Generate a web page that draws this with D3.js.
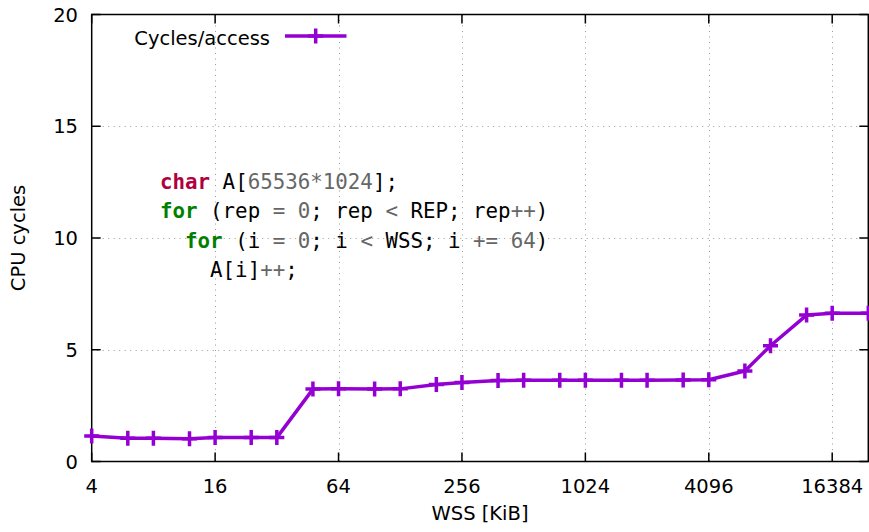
<!DOCTYPE html>
<html>
<head>
<meta charset="utf-8">
<script src="https://cdn.jsdelivr.net/npm/d3@7"></script>
<style>
  body { margin: 0; background: #fff; }
  svg { display: block; }
  text { font-family: "DejaVu Sans", sans-serif; }
  text.code { font-family: "DejaVu Sans Mono", monospace; }
</style>
</head>
<body>
<div id="chart"></div>
<script>
let width = 869;
let height = 532;

// working set sizes in KiB and measured cycles per access
let wss = [4, 6, 8, 12, 16, 24, 32, 48, 64, 96, 128, 192, 256, 384, 512, 768,
           1024, 1536, 2048, 3072, 4096, 6144, 8192, 12288, 16384, 24576];
let cycles = [1.14, 1.04, 1.04, 1.02, 1.07, 1.07, 1.07, 3.24, 3.25, 3.24, 3.25, 3.45, 3.54, 3.62, 3.63, 3.63,
              3.63, 3.63, 3.64, 3.65, 3.66, 4.05, 5.18, 6.55, 6.63, 6.63];
let xTicks = [4, 16, 64, 256, 1024, 4096, 16384];
let yTicks = [0, 5, 10, 15, 20];

// the code snippet shown in the plot, split into coloured pieces
let codeLines = [
  [["char", "type"], [" A[", "id"], ["65536", "num"], ["*", "op"], ["1024", "num"], ["];", "id"]],
  [["for", "kw"], [" (rep ", "id"], ["=", "op"], [" ", "id"], ["0", "num"], ["; rep ", "id"], ["<", "op"], [" REP; rep", "id"], ["++", "op"], [")", "id"]],
  [["  ", "id"], ["for", "kw"], [" (i ", "id"], ["=", "op"], [" ", "id"], ["0", "num"], ["; i ", "id"], ["<", "op"], [" WSS; i ", "id"], ["+=", "op"], [" ", "id"], ["64", "num"], [")", "id"]],
  [["    A[i]", "id"], ["++", "op"], [";", "id"]]
];
let codeColours = { type: "#b00040", kw: "#008000", id: "#000000", num: "#666666", op: "#666666" };

let margin = { left: 91.7, right: 0.7, top: 14.5, bottom: 70.5 };
let lineColour = "#9400d3";

let svg = d3.select("#chart").append("svg")
    .attr("width", width)
    .attr("height", height);

let x = d3.scaleLog().base(2)
    .domain([4, 24576])
    .range([margin.left, width - margin.right]);
let y = d3.scaleLinear()
    .domain([0, 20])
    .range([height - margin.bottom, margin.top]);

let x0 = x.range()[0], x1 = x.range()[1];
let y0 = y.range()[0], y1 = y.range()[1];

// dotted grid
let grid = svg.append("g")
    .attr("stroke", "#999")
    .attr("stroke-width", 1)
    .attr("stroke-dasharray", "1 4.5");
grid.selectAll(".gx")
    .data(xTicks.slice(1))
    .enter().append("line")
        .attr("x1", d => Math.round(x(d)) + 0.5).attr("x2", d => Math.round(x(d)) + 0.5)
        .attr("y1", y1).attr("y2", y0);
grid.selectAll(".gy")
    .data(yTicks.slice(1, -1))
    .enter().append("line")
        .attr("x1", x0).attr("x2", x1)
        .attr("y1", d => Math.round(y(d)) + 0.5).attr("y2", d => Math.round(y(d)) + 0.5);

// code text
let code = svg.append("text")
    .attr("class", "code")
    .attr("font-size", 20.8)
    .attr("xml:space", "preserve");
codeLines.forEach((pieces, i) => {
    pieces.forEach((p, j) => {
        let t = code.append("tspan")
            .attr("fill", codeColours[p[1]])
            .attr("font-weight", (p[1] == "kw" || p[1] == "type") ? "bold" : "normal")
            .text(p[0]);
        if (j == 0) {
            t.attr("x", 160).attr("y", 189 + i * 29.3);
        }
    });
});

// axes with inward ticks, mirrored
let tickLen = 9;
let ax = svg.append("g").attr("stroke", "#000").attr("stroke-width", 1.5);
xTicks.forEach(d => {
    ax.append("line").attr("x1", x(d)).attr("x2", x(d)).attr("y1", y0).attr("y2", y0 - tickLen);
    ax.append("line").attr("x1", x(d)).attr("x2", x(d)).attr("y1", y1).attr("y2", y1 + tickLen);
});
yTicks.forEach(d => {
    ax.append("line").attr("x1", x0).attr("x2", x0 + tickLen).attr("y1", y(d)).attr("y2", y(d));
    ax.append("line").attr("x1", x1).attr("x2", x1 - tickLen).attr("y1", y(d)).attr("y2", y(d));
});
ax.append("rect")
    .attr("x", x0).attr("y", y1)
    .attr("width", x1 - x0).attr("height", y0 - y1)
    .attr("fill", "none");

svg.append("g").selectAll("text")
    .data(xTicks)
    .enter().append("text")
        .attr("x", d => x(d))
        .attr("y", 493)
        .attr("text-anchor", "middle")
        .attr("font-size", 19.5)
        .text(d => d);
svg.append("g").selectAll("text")
    .data(yTicks)
    .enter().append("text")
        .attr("x", 78)
        .attr("y", d => y(d) + 7)
        .attr("text-anchor", "end")
        .attr("font-size", 19.5)
        .text(d => d);

svg.append("text")
    .attr("x", (x0 + x1) / 2)
    .attr("y", 519.5)
    .attr("text-anchor", "middle")
    .attr("font-size", 19.5)
    .text("WSS [KiB]");
svg.append("text")
    .attr("transform", `translate(24.5,${(y0 + y1) / 2}) rotate(-90)`)
    .attr("text-anchor", "middle")
    .attr("font-size", 19.5)
    .text("CPU cycles");

// data line and plus markers
let line = d3.line()
    .x((d, i) => x(wss[i]))
    .y(d => y(d));

svg.append("path")
    .datum(cycles)
    .attr("d", line)
    .attr("fill", "none")
    .attr("stroke", lineColour)
    .attr("stroke-width", 3.5)
    .attr("stroke-linejoin", "round");

function plus(g, cx, cy) {
    let s = 7.5;
    g.append("path")
        .attr("d", `M${cx - s},${cy}H${cx + s}M${cx},${cy - s}V${cy + s}`)
        .attr("stroke", lineColour)
        .attr("stroke-width", 3.5)
        .attr("fill", "none");
}
let markers = svg.append("g");
cycles.forEach((d, i) => plus(markers, x(wss[i]), y(d)));

// legend
let legend = svg.append("g");
legend.append("text")
    .attr("x", 270)
    .attr("y", 44.5)
    .attr("text-anchor", "end")
    .attr("font-size", 19.5)
    .text("Cycles/access");
legend.append("line")
    .attr("x1", 285).attr("x2", 346.5)
    .attr("y1", 36).attr("y2", 36)
    .attr("stroke", lineColour)
    .attr("stroke-width", 3.5);
plus(legend, 315.7, 36);
</script>
</body>
</html>
